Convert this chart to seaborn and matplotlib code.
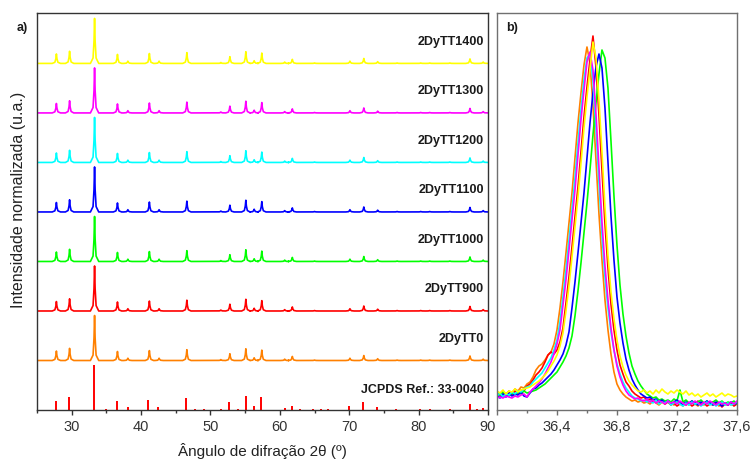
import numpy as np
import pandas as pd
import matplotlib
matplotlib.use("Agg")
import matplotlib.pyplot as plt
import seaborn as sns
from matplotlib.ticker import MultipleLocator, FixedLocator, FixedFormatter

sns.set_style("ticks")
plt.rcParams['font.family'] = ['Liberation Sans', 'DejaVu Sans']

# ---------------- data ----------------
samples = ["2DyTT0", "2DyTT900", "2DyTT1000", "2DyTT1100", "2DyTT1200", "2DyTT1300", "2DyTT1400"]
colors = ["#ff8000", "#ff0000", "#00ff00", "#0000ff", "#00ffff", "#ff00ff", "#ffff00"]
ref_label = "JCPDS Ref.: 33-0040"

# JCPDS reference sticks (2theta, relative intensity)
ref_pos = [27.7, 29.66, 33.2, 34.9, 36.5, 38.07, 41.04, 42.5, 46.5, 47.8, 49.1, 51.5, 52.7, 53.9,
           55.07, 56.27, 57.3, 60.7, 61.7, 62.9, 64.8, 66.0, 67.0, 70.0, 72.0, 73.95, 76.8,
           80.2, 81.6, 84.5, 87.4, 88.4, 89.3]
ref_int = [0.20, 0.28, 1.00, 0.02, 0.21, 0.07, 0.23, 0.06, 0.26, 0.02, 0.02, 0.02, 0.18, 0.02,
           0.32, 0.10, 0.29, 0.04, 0.10, 0.02, 0.02, 0.02, 0.02, 0.08, 0.17, 0.06, 0.02,
           0.02, 0.02, 0.02, 0.13, 0.03, 0.04]

# peaks of the measured patterns (normalised)
peak_pos = [27.8, 29.7, 33.3, 36.6, 38.1, 41.2, 42.6, 46.6, 51.5, 52.8, 55.1, 56.3, 57.4,
            60.7, 61.8, 65.0, 70.1, 72.1, 74.1, 76.9, 80.3, 81.6, 84.5, 87.4, 89.3]
peak_int = [0.21, 0.27, 1.00, 0.20, 0.05, 0.22, 0.05, 0.24, 0.02, 0.15, 0.26, 0.06, 0.23,
            0.03, 0.09, 0.01, 0.05, 0.11, 0.04, 0.01, 0.01, 0.01, 0.01, 0.10, 0.03]

# panel b: zoom on the (36.6) reflection, common 2theta grid
two_theta_b = np.round(np.arange(36.0, 37.6001, 0.02), 2)
zoom_tt0 = [17, 15, 18, 16, 19, 17, 21, 19, 23, 22, 26, 28, 33, 40, 44, 46, 50, 55, 58, 66,
            80, 102, 128, 157, 187, 217, 252, 287, 317, 345, 363, 347, 305, 250, 196, 150, 110, 80, 56, 38,
            26, 20, 16, 13, 11, 9, 10, 8, 9, 7, 8, 6, 9, 7, 5, 8, 6, 9, 7, 5,
            8, 6, 4, 7, 5, 8, 6, 4, 7, 5, 8, 6, 5, 7, 4, 6, 5, 7, 5, 6, 7]
zoom_tt900 = [16, 13, 17, 14, 18, 15, 19, 17, 20, 19, 24, 26, 30, 35, 38, 42, 48, 55, 58, 56,
              60, 68, 82, 107, 133, 163, 193, 223, 258, 293, 323, 350, 374, 343, 295, 240, 186, 142, 106, 80,
              60, 45, 36, 28, 24, 19, 16, 14, 12, 13, 10, 11, 8, 10, 7, 9, 6, 8, 5, 7,
              4, 6, 8, 5, 7, 4, 6, 9, 5, 7, 4, 6, 8, 5, 7, 3, 6, 5, 7, 4, 6]
zoom_tt1000 = [17, 15, 18, 16, 14, 17, 15, 18, 16, 19, 17, 18, 19, 20, 22, 24, 26, 29, 32, 35,
               38, 43, 48, 54, 62, 74, 94, 119, 147, 177, 207, 240, 275, 307, 336, 360, 352, 322, 269, 214,
               165, 125, 96, 74, 57, 44, 36, 29, 24, 20, 16, 14, 12, 13, 10, 11, 9, 10, 8, 11,
               9, 20, 8, 10, 7, 9, 6, 8, 10, 7, 9, 6, 8, 10, 7, 9, 6, 8, 7, 9, 6]
zoom_tt1100 = [15, 12, 16, 13, 17, 14, 16, 15, 18, 14, 13, 17, 21, 22, 25, 27, 30, 33, 36, 40,
               45, 50, 56, 65, 78, 102, 128, 157, 187, 217, 252, 287, 317, 343, 356, 342, 302, 248, 194, 150,
               113, 87, 67, 51, 40, 31, 25, 20, 16, 14, 12, 13, 10, 11, 8, 10, 7, 9, 6, 8,
               10, 7, 5, 8, 6, 9, 7, 5, 8, 6, 9, 7, 5, 8, 6, 4, 7, 5, 8, 6, 7]
zoom_tt1200 = [14, 17, 13, 16, 15, 18, 16, 19, 18, 21, 23, 24, 28, 31, 34, 37, 42, 47, 52, 60,
               70, 88, 113, 140, 170, 200, 232, 267, 300, 330, 352, 356, 330, 282, 227, 175, 133, 102, 78, 60,
               46, 36, 28, 22, 18, 14, 12, 11, 9, 10, 8, 9, 7, 10, 6, 8, 7, 9, 5, 7,
               8, 6, 4, 7, 5, 8, 6, 7, 4, 6, 8, 5, 7, 4, 6, 8, 5, 7, 5, 6, 8]
zoom_tt1300 = [12, 13, 12, 14, 13, 12, 14, 13, 15, 16, 13, 18, 21, 24, 27, 31, 36, 42, 48, 56,
               66, 80, 105, 130, 160, 190, 220, 255, 290, 320, 348, 358, 340, 296, 242, 188, 144, 110, 82, 60,
               44, 33, 25, 19, 15, 13, 11, 12, 10, 9, 11, 8, 10, 7, 9, 8, 6, 9, 7, 8,
               6, 9, 7, 5, 8, 6, 9, 7, 5, 8, 6, 9, 7, 5, 8, 6, 7, 5, 8, 6, 9]
zoom_tt1400 = [19, 17, 20, 16, 19, 18, 21, 18, 20, 21, 22, 23, 25, 27, 29, 32, 35, 39, 44, 49,
               55, 64, 77, 99, 124, 153, 183, 213, 247, 282, 313, 341, 368, 352, 310, 258, 203, 155, 118, 91,
               70, 54, 43, 35, 29, 25, 22, 19, 18, 20, 17, 19, 16, 20, 17, 21, 18, 16, 19, 17,
               20, 18, 16, 19, 15, 17, 14, 16, 13, 15, 17, 14, 16, 13, 15, 17, 14, 16, 15, 13, 14]
zoom_series = [zoom_tt0, zoom_tt900, zoom_tt1000, zoom_tt1100, zoom_tt1200, zoom_tt1300, zoom_tt1400]

# ---------------- style parameters ----------------
offset_step = 1.1
profile_dx = np.array([-0.6, -0.22, -0.08, 0.0, 0.08, 0.22, 0.6])
profile_frac = np.array([0.0, 0.12, 0.5, 1.0, 0.5, 0.12, 0.0])


def build_pattern(pos, inten, base):
    xs = [25.0]
    ys = [base]
    for p, h in zip(pos, inten):
        xs.extend(list(p + profile_dx))
        ys.extend(list(base + h * profile_frac))
    xs.append(90.0)
    ys.append(base)
    return np.array(xs), np.array(ys)


fig = plt.figure(figsize=(7.53, 4.61), dpi=100)
ax_a = fig.add_axes([0.0491, 0.1106, 0.5990, 0.8612])
ax_b = fig.add_axes([0.660, 0.1106, 0.3187, 0.8612])

# ---------------- panel a ----------------
ax_a.vlines(ref_pos, 0, ref_int, colors="#ff0000", linewidth=1.4)
ax_a.text(89.4, 0.44, ref_label, ha="right", va="center", fontsize=9, fontweight="bold", color="#1a1a1a")

for i, (name, col) in enumerate(zip(samples, colors)):
    base = offset_step * (i + 1)
    xs, ys = build_pattern(peak_pos, peak_int, base)
    df = pd.DataFrame({"x": xs, "y": ys})
    sns.lineplot(data=df, x="x", y="y", ax=ax_a, color=col, linewidth=1.2,
                 estimator=None, sort=False)
    ax_a.text(89.4, base + 0.48, name, ha="right", va="center", fontsize=9,
              fontweight="bold", color="#1a1a1a")

ax_a.set_xlim(25, 90)
ax_a.set_ylim(0, 8.82)
ax_a.xaxis.set_major_locator(MultipleLocator(10))
ax_a.xaxis.set_minor_locator(MultipleLocator(5))
ax_a.set_yticks([])
ax_a.set_xlabel("Ângulo de difração 2θ (º)", fontsize=11, color="#222222", labelpad=6)
ax_a.set_ylabel("Intensidade normalizada (u.a.)", fontsize=11.5, color="#222222", labelpad=8)
ax_a.yaxis.set_label_coords(-0.025, 0.53)
ax_a.tick_params(axis="x", which="major", length=3.5, width=1, color="#333333",
                 labelsize=10.5, labelcolor="#333333", pad=4)
ax_a.tick_params(axis="x", which="minor", length=2, width=1, color="#333333")
for s in ax_a.spines.values():
    s.set_color("#333333")
    s.set_linewidth(1.0)
ax_a.text(-0.02, 0.962, "a)", transform=ax_a.transAxes, ha="right", va="center",
          fontsize=9, fontweight="bold", color="#1a1a1a")

# ---------------- panel b ----------------
for name, col, ys in zip(samples, colors, zoom_series):
    df = pd.DataFrame({"x": two_theta_b, "y": ys})
    sns.lineplot(data=df, x="x", y="y", ax=ax_b, color=col, linewidth=1.2,
                 estimator=None, sort=False)

ax_b.set_xlim(36.0, 37.6)
ax_b.set_ylim(0, 397)
ax_b.set_yticks([])
ax_b.xaxis.set_major_locator(FixedLocator([36.0, 36.4, 36.8, 37.2, 37.6]))
ax_b.xaxis.set_major_formatter(FixedFormatter(["", "36,4", "36,8", "37,2", "37,6"]))
ax_b.xaxis.set_minor_locator(MultipleLocator(0.2))
ax_b.set_xlabel("")
ax_b.set_ylabel("")
ax_b.tick_params(axis="x", which="major", length=3.5, width=1, color="#707070",
                 labelsize=10.5, labelcolor="#333333", pad=4)
ax_b.tick_params(axis="x", which="minor", length=2, width=1, color="#707070")
for s in ax_b.spines.values():
    s.set_color("#707070")
    s.set_linewidth(1.0)
ax_b.text(0.04, 0.962, "b)", transform=ax_b.transAxes, ha="left", va="center",
          fontsize=9, fontweight="bold", color="#1a1a1a")

fig.savefig("out.png", dpi=100)
